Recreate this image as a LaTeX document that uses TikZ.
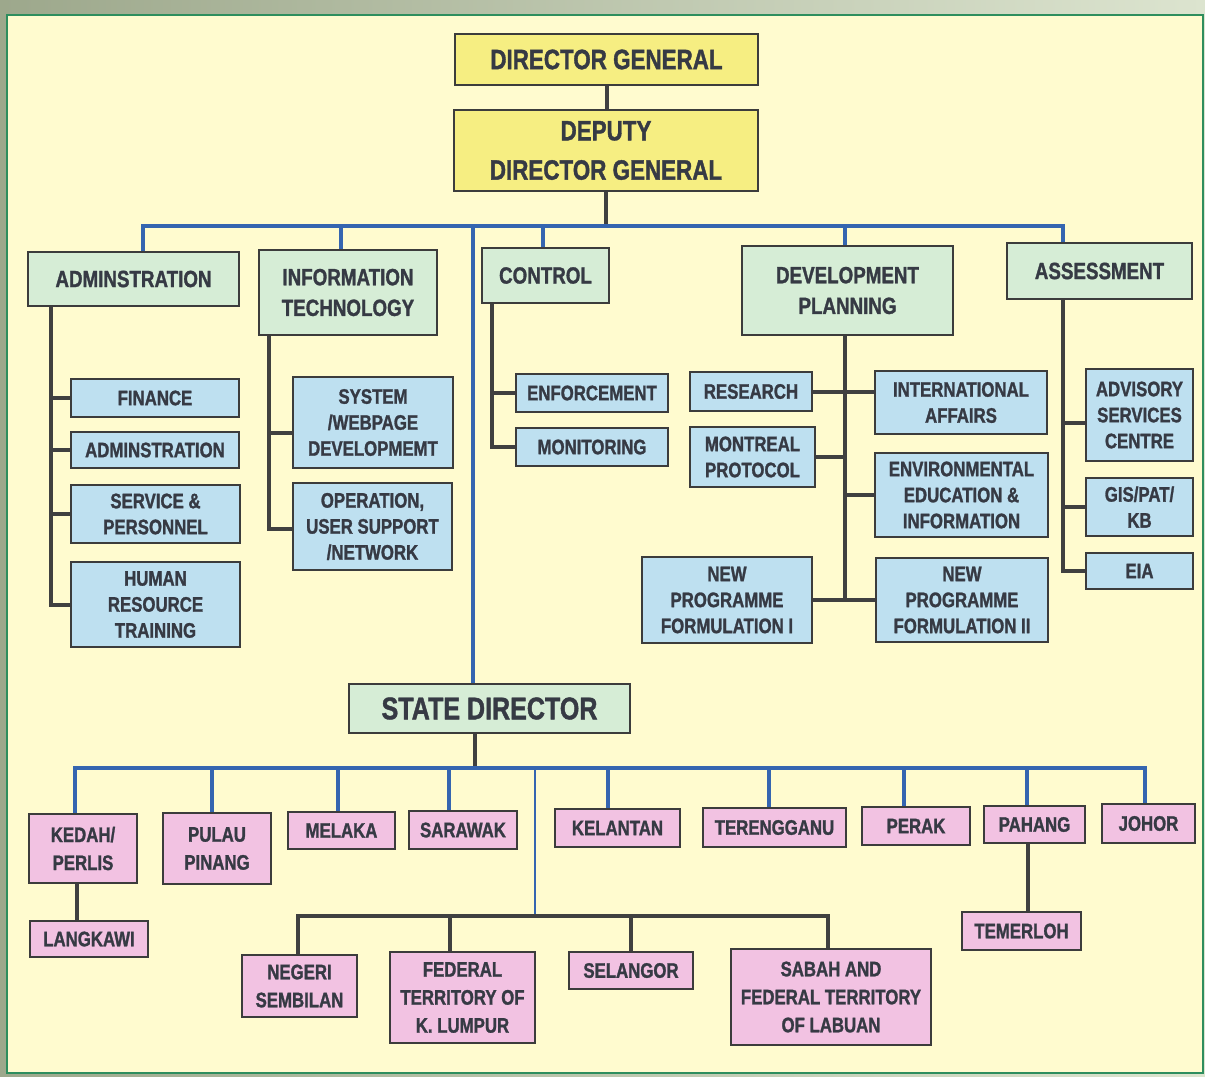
\documentclass[tikz,border=0pt]{standalone}
\usepackage{fontspec}
\newfontfamily\cf[FakeStretch=0.8, BoldFeatures={FakeBold=1.3}]{Liberation Sans}
\definecolor{ybg}{HTML}{F6EE82}
\definecolor{gbg}{HTML}{D6EDD6}
\definecolor{bbg}{HTML}{BEE0F0}
\definecolor{pbg}{HTML}{F2C2E2}
\definecolor{panel}{HTML}{FFFBCF}
\definecolor{boxline}{HTML}{3C3C3C}
\definecolor{txt}{HTML}{363A44}
\definecolor{lk}{HTML}{404040}
\definecolor{bll}{HTML}{3565B0}
\definecolor{pborder}{HTML}{2E8E5E}
\definecolor{outerA}{HTML}{9DA88C}
\definecolor{outerB}{HTML}{DCE4CF}
\pgfdeclarelayer{back}
\pgfdeclarelayer{mid}
\pgfsetlayers{back,mid,main}
\tikzset{
  base/.style={draw=boxline, line width=1.6pt, inner sep=0pt, align=center, text=txt},
  ybox/.style={base, fill=ybg, font=\cf\bfseries\fontsize{21}{29.5}\selectfont},
  gbox/.style={base, fill=gbg, font=\cf\bfseries\fontsize{17.6}{23}\selectfont},
  sdbox/.style={base, fill=gbg, font=\cf\bfseries\fontsize{23.5}{28}\selectfont},
  bbox/.style={base, fill=bbg, font=\cf\bfseries\fontsize{15.75}{19.5}\selectfont},
  pbox/.style={base, fill=pbg, font=\cf\bfseries\fontsize{15.75}{21}\selectfont},
  dk/.style={draw=lk, line width=3pt},
  bl/.style={draw=bll, line width=3pt},
  blt/.style={draw=bll, line width=2pt},
}
\newcommand\OrgBox[7]{\node[#6, minimum width={(#4-#2)*0.75pt}, minimum height={(#5-#3)*0.75pt}] (#1) at ({(#2+#4)/2},{(#3+#5)/2}) {#7};}
\begin{document}
\begin{tikzpicture}[x=0.75pt,y=-0.75pt]
\useasboundingbox (0,0) rectangle (1205,1076);
\begin{pgfonlayer}{back}
\shade[left color=outerA, right color=outerB] (0,0) rectangle (1205,1076);
\filldraw[fill=panel, draw=pborder, line width=1.5pt] (7,15) rectangle (1203,1073);
\end{pgfonlayer}

% top
\OrgBox{dg}{455}{34}{758}{85}{ybox}{DIRECTOR GENERAL}
\OrgBox{ddg}{454}{110}{758}{191}{ybox}{DEPUTY\\DIRECTOR GENERAL}
% divisions
\OrgBox{adm}{28}{252}{239}{306}{gbox}{ADMINSTRATION}
\OrgBox{it}{259}{250}{437}{335}{gbox}{INFORMATION\\TECHNOLOGY}
\OrgBox{ctl}{482}{248}{609}{303}{gbox}{CONTROL}
\OrgBox{dev}{742}{246}{953}{335}{gbox}{DEVELOPMENT\\PLANNING}
\OrgBox{ass}{1007}{243}{1192}{299}{gbox}{ASSESSMENT}
\OrgBox{sd}{349}{684}{630}{733}{sdbox}{STATE DIRECTOR}
% units
\OrgBox{fin}{71}{379}{239}{417}{bbox}{FINANCE}
\OrgBox{adm2}{71}{432}{239}{468}{bbox}{ADMINSTRATION}
\OrgBox{sp}{71}{485}{240}{543}{bbox}{SERVICE \&\\PERSONNEL}
\OrgBox{hrt}{71}{562}{240}{647}{bbox}{HUMAN\\RESOURCE\\TRAINING}
\OrgBox{sys}{293}{377}{453}{468}{bbox}{SYSTEM\\/WEBPAGE\\DEVELOPMEMT}
\OrgBox{ops}{293}{483}{452}{570}{bbox}{OPERATION,\\USER SUPPORT\\/NETWORK}
\OrgBox{enf}{516}{374}{668}{412}{bbox}{ENFORCEMENT}
\OrgBox{mon}{516}{428}{668}{466}{bbox}{MONITORING}
\OrgBox{res}{690}{372}{812}{411}{bbox}{RESEARCH}
\OrgBox{intl}{875}{371}{1047}{434}{bbox}{INTERNATIONAL\\AFFAIRS}
\OrgBox{mp}{690}{427}{815}{487}{bbox}{MONTREAL\\PROTOCOL}
\OrgBox{env}{875}{453}{1048}{537}{bbox}{ENVIRONMENTAL\\EDUCATION \&\\INFORMATION}
\OrgBox{npfa}{642}{557}{812}{643}{bbox}{NEW\\PROGRAMME\\FORMULATION I}
\OrgBox{npfb}{876}{558}{1048}{642}{bbox}{NEW\\PROGRAMME\\FORMULATION II}
\OrgBox{asc}{1086}{369}{1193}{461}{bbox}{ADVISORY\\SERVICES\\CENTRE}
\OrgBox{gis}{1086}{478}{1193}{536}{bbox}{GIS/PAT/\\KB}
\OrgBox{eia}{1086}{553}{1193}{589}{bbox}{EIA}
% states
\OrgBox{kedah}{29}{814}{137}{883}{pbox}{KEDAH/\\PERLIS}
\OrgBox{pulau}{163}{813}{271}{884}{pbox}{PULAU\\PINANG}
\OrgBox{melaka}{288}{812}{395}{849}{pbox}{MELAKA}
\OrgBox{sarawak}{409}{811}{517}{849}{pbox}{SARAWAK}
\OrgBox{kelantan}{555}{809}{680}{847}{pbox}{KELANTAN}
\OrgBox{tereng}{703}{808}{846}{847}{pbox}{TERENGGANU}
\OrgBox{perak}{862}{807}{970}{845}{pbox}{PERAK}
\OrgBox{pahang}{984}{806}{1085}{843}{pbox}{PAHANG}
\OrgBox{johor}{1102}{804}{1195}{843}{pbox}{JOHOR}
\OrgBox{langkawi}{30}{921}{148}{957}{pbox}{LANGKAWI}
\OrgBox{temerloh}{962}{912}{1081}{950}{pbox}{TEMERLOH}
\OrgBox{ns}{242}{955}{357}{1017}{pbox}{NEGERI\\SEMBILAN}
\OrgBox{ftkl}{390}{952}{535}{1043}{pbox}{FEDERAL\\TERRITORY OF\\K. LUMPUR}
\OrgBox{sel}{569}{952}{693}{989}{pbox}{SELANGOR}
\OrgBox{sabah}{731}{949}{931}{1045}{pbox}{SABAH AND\\FEDERAL TERRITORY\\OF LABUAN}

\coordinate (busA) at (603,226);
\coordinate (busB) at (475,768);
\coordinate (busC) at (535,916);

\begin{pgfonlayer}{mid}
\draw[dk] (dg.south) -- (dg.south |- ddg.north);
\draw[dk] (ddg.south) -- (ddg.south |- busA);
\draw[bl] (adm.north -| 143,0) -- (143,226) -- (1063,226) -- (ass.north -| 1063,0);
\draw[bl] (it.north -| 341,0) -- (341,226);
\draw[bl] (ctl.north -| 543,0) -- (543,226);
\draw[bl] (dev.north -| 845,0) -- (845,226);
\draw[bl] (sd.north -| 473,0) -- (473,226);
% admin
\draw[dk] (adm.south -| 51,0) |- (hrt.west);
\draw[dk] (fin.west) -- (fin.west -| 51,0);
\draw[dk] (adm2.west) -- (adm2.west -| 51,0);
\draw[dk] (sp.west) -- (sp.west -| 51,0);
% IT
\draw[dk] (it.south -| 269,0) -- (269,529) -- (ops.west |- 0,529);
\draw[dk] (sys.west |- 0,433) -- (269,433);
% control
\draw[dk] (ctl.south -| 492,0) |- (mon.west);
\draw[dk] (enf.west) -- (enf.west -| 492,0);
% development
\draw[dk] (dev.south -| 845,0) -- (845,598);
\draw[dk] (res.east) -- (res.east -| intl.west);
\draw[dk] (mp.east) -- (mp.east -| 845,0);
\draw[dk] (env.west) -- (env.west -| 845,0);
\draw[dk] (npfa.east) -- (npfb.west);
% assessment
\draw[dk] (ass.south -| 1063,0) |- (eia.west);
\draw[dk] (asc.west |- 0,423) -- (1063,423);
\draw[dk] (gis.west) -- (gis.west -| 1063,0);
% states
\draw[dk] (sd.south -| busB) -- (busB);
\draw[bl] (kedah.north -| 75,0) -- (75,768) -- (1145,768) -- (johor.north -| 1145,0);
\draw[bl] (pulau.north -| 212,0) -- (212,768);
\draw[bl] (melaka.north -| 338,0) -- (338,768);
\draw[bl] (sarawak.north -| 449,0) -- (449,768);
\draw[bl] (kelantan.north -| 608,0) -- (608,768);
\draw[bl] (tereng.north -| 769,0) -- (769,768);
\draw[bl] (perak.north -| 904,0) -- (904,768);
\draw[bl] (pahang.north -| 1027,0) -- (1027,768);
\draw[blt] (535,768) -- (busC);
\draw[dk] (ns.north -| 298,0) -- (298,916) -- (828,916) -- (sabah.north -| 828,0);
\draw[dk] (ftkl.north -| 450,0) -- (450,916);
\draw[dk] (sel.north) -- (sel.north |- busC);
\draw[dk] (kedah.south -| 77,0) -- (langkawi.north -| 77,0);
\draw[dk] (pahang.south -| 1028,0) -- (temerloh.north -| 1028,0);
\end{pgfonlayer}
\end{tikzpicture}
\end{document}
